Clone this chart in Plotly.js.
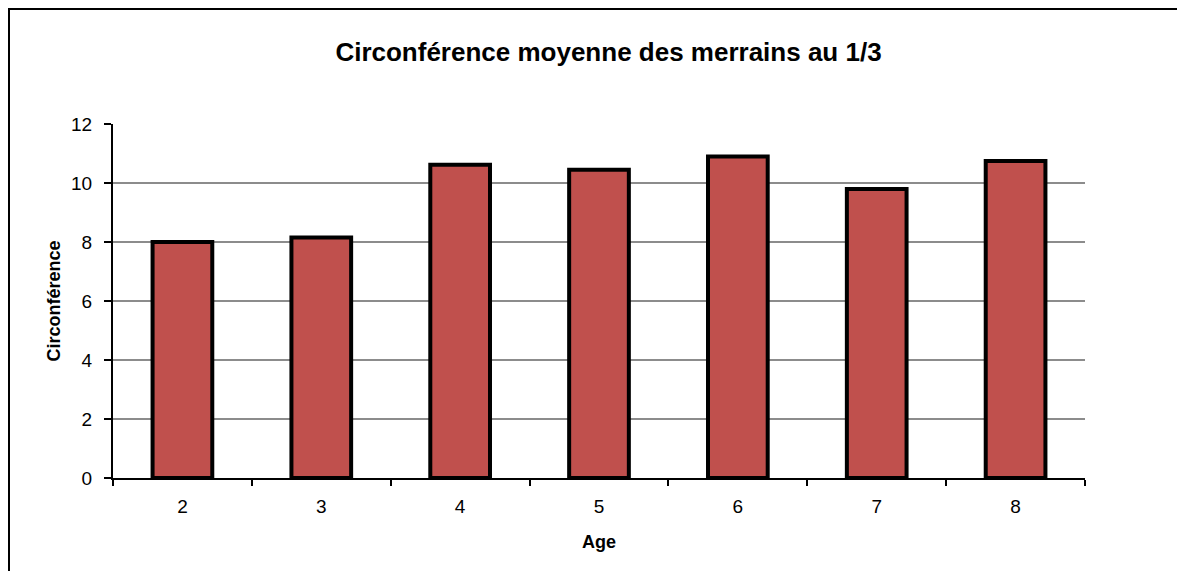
<!DOCTYPE html>
<html>
<head>
<meta charset="utf-8">
<script src="https://cdn.plot.ly/plotly-3.0.1.min.js"></script>
<style>html,body{margin:0;padding:0;background:#fff;}#chart{width:1177px;height:571px;}</style>
</head>
<body>
<div id="chart"></div>
<script>
const categories = ["2", "3", "4", "5", "6", "7", "8"];
const circumference = [8.0, 8.15, 10.62, 10.45, 10.9, 9.8, 10.75];
const yTicks = [0, 2, 4, 6, 8, 10, 12];

const trace = {
  type: "bar",
  x: categories,
  y: circumference,
  marker: {color: "#C0504D", line: {color: "#000000", width: 4}},
  hoverinfo: "x+y"
};

const layout = {
  width: 1177, height: 571,
  margin: {l: 113, r: 92, t: 124, b: 93},
  paper_bgcolor: "#ffffff",
  plot_bgcolor: "#ffffff",
  bargap: 0.57,
  showlegend: false,
  font: {family: "Liberation Sans, Arial, sans-serif", color: "#000000"},
  title: {
    text: "<b>Circonférence moyenne des merrains au 1/3</b>",
    font: {size: 26, family: "Liberation Sans, Arial, sans-serif", color: "#000"},
    x: 0.517, xanchor: "center", y: 0.909, yanchor: "middle"
  },
  xaxis: {
    type: "category",
    tickson: "boundaries",
    ticks: "outside", ticklen: 6, tickwidth: 2, tickcolor: "#000",
    showline: true, linecolor: "#000", linewidth: 2,
    showgrid: false,
    tickfont: {size: 19},
    ticklabelstandoff: 10,
    title: {text: "<b>Age</b>", font: {size: 18}, standoff: 20}
  },
  yaxis: {
    range: [0, 12],
    tickvals: yTicks,
    ticks: "outside", ticklen: 7, tickwidth: 2, tickcolor: "#000",
    showline: true, linecolor: "#000", linewidth: 2,
    showgrid: true, gridcolor: "#8c8c8c", gridwidth: 2,
    zeroline: false,
    tickfont: {size: 19},
    ticklabelstandoff: 8,
    title: {text: "<b>Circonférence</b>", font: {size: 18}, standoff: 6}
  },
  shapes: [{
    type: "rect", xref: "paper", yref: "paper",
    x0: -104/972, x1: 1086/972, y0: -0.3, y1: 1 + 115/354,
    line: {color: "#000", width: 2}, fillcolor: "rgba(0,0,0,0)", layer: "below"
  }]
};

Plotly.newPlot("chart", [trace], layout, {displayModeBar: false, staticPlot: true});
</script>
</body>
</html>
